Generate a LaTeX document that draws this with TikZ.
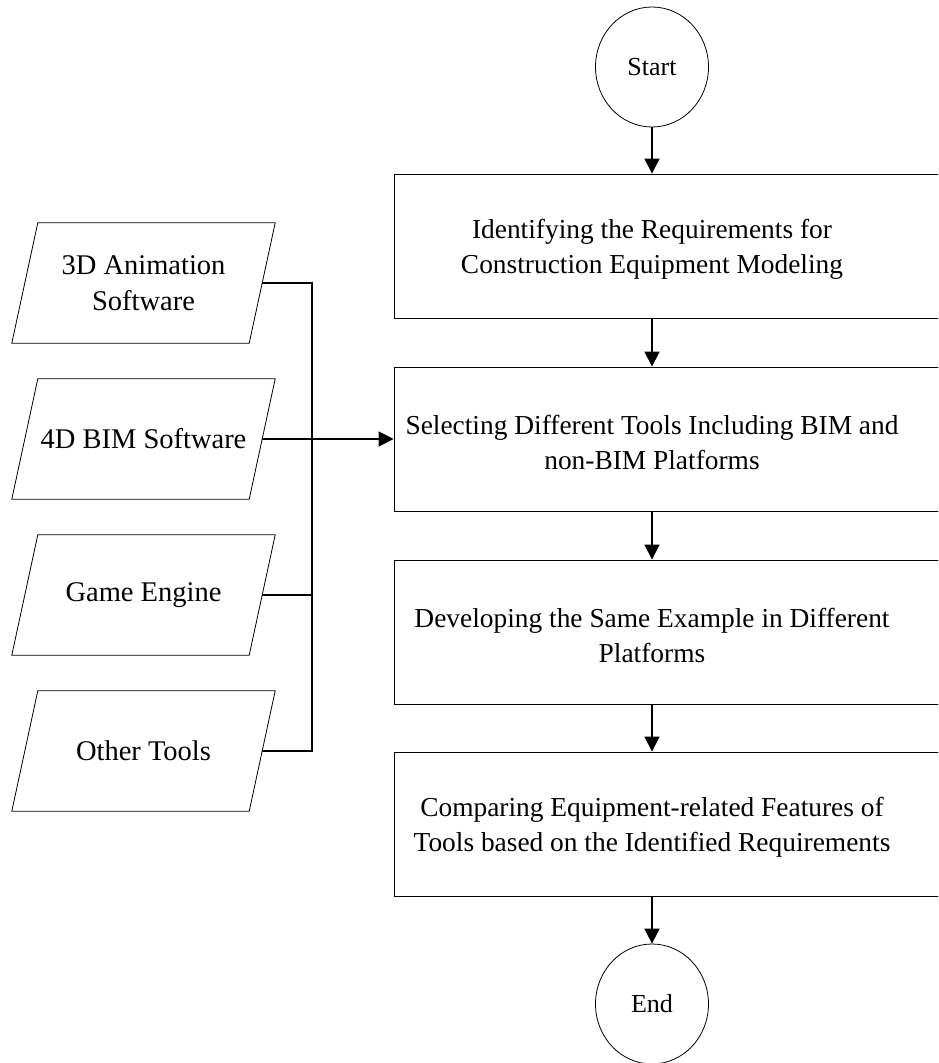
\documentclass[tikz,border=0pt]{standalone}
\usepackage{fontspec}
\setmainfont{Liberation Serif}
\usetikzlibrary{arrows.meta,shapes.geometric}
\begin{document}
\begin{tikzpicture}[x=1pt,y=-1pt,
  boxtext/.style={font=\fontsize{27.4}{35.5}\selectfont, align=center, inner sep=0pt},
  stepbox/.style={draw, line width=0.9pt, minimum width=551pt, minimum height=144pt, inner sep=0pt},
  term/.style={draw, ellipse, line width=0.8pt, minimum width=113pt, minimum height=120pt, inner sep=0pt, font=\fontsize{26}{30}\selectfont},
  para/.style={minimum width=237pt, minimum height=120pt, inner sep=0pt, align=center,
    font=\fontsize{28.5}{36}\selectfont},
  parashape/.style={draw, line width=0.8pt, line join=miter},
  flow/.style={line width=1.8pt, -{Triangle[width=15pt,length=15pt]}},
  link/.style={line width=1.6pt}]
\useasboundingbox (0,0) rectangle (938,1063);
\clip (0,0) rectangle (938,1063);
\fill[white] (0,0) rectangle (938,1063);

\node[term] (start) at (652,67) {Start};
\node[term] (end) at (652,1004) {End};

\node[stepbox] (b1) at (669.5,246) {};
\node[stepbox] (b2) at (669.5,439) {};
\node[stepbox] (b3) at (669.5,632) {};
\node[stepbox] (b4) at (669.5,824) {};

\node[boxtext] (t1) at (652,249.5) {Identifying the Requirements for\\Construction Equipment Modeling};
\node[boxtext] (t2) at (652,442.5) {Selecting Different Tools Including BIM and\\non-BIM Platforms};
\node[boxtext] (t3) at (652,635.5) {Developing the Same Example in Different\\Platforms};
\node[boxtext] (t4) at (652,827.5) {Comparing Equipment-related Features of\\Tools based on the Identified Requirements};

\node[para] (p1) at (143.5,283) {3D Animation\\Software};
\node[para] (p2) at (143.5,439) {4D BIM Software};
\node[para] (p3) at (143.5,595) {Game Engine};
\node[para] (p4) at (143.5,751) {Other Tools};

\foreach \p in {p1,p2,p3,p4}{
  \draw[parashape] ([xshift=-13pt]\p.south west) -- ([xshift=-13pt]\p.south east)
    -- ([xshift=13pt]\p.north east) -- ([xshift=13pt]\p.north west) -- cycle;
}

\coordinate (j) at (312,439);

\draw[flow] (start) -- (start |- b1.north);
\draw[flow] (b1.south -| start) -- (start |- b2.north);
\draw[flow] (b2.south -| start) -- (start |- b3.north);
\draw[flow] (b3.south -| start) -- (start |- b4.north);
\draw[flow] (b4.south -| start) -- (end);

\draw[link] (p1.east) -| (j) |- (p4.east);
\draw[link] (p3.east) -- (p3.east -| j);
\draw[flow] (p2.east) -- (b2.west |- p2.east);
\end{tikzpicture}
\end{document}
